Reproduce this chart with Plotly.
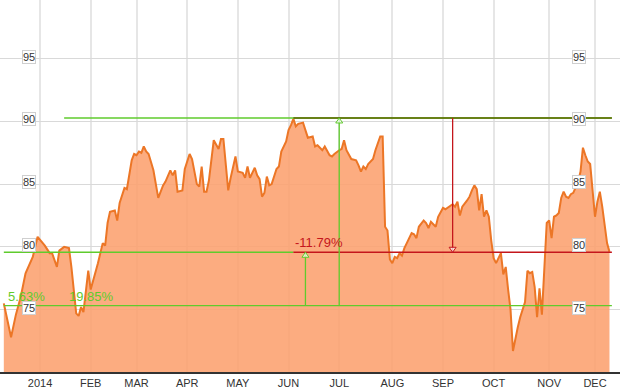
import plotly.graph_objects as go

# ---- data (trading days) ----
dates = [
    "2013-12-10", "2013-12-13", "2013-12-17", "2013-12-19", "2013-12-23", "2013-12-26", "2013-12-27", "2013-12-31",
    "2014-01-03", "2014-01-06", "2014-01-08", "2014-01-09", "2014-01-13", "2014-01-14", "2014-01-16", "2014-01-21",
    "2014-01-22", "2014-01-24", "2014-01-27", "2014-01-28", "2014-01-29", "2014-01-31",
    "2014-02-03", "2014-02-05", "2014-02-06", "2014-02-10", "2014-02-11", "2014-02-12", "2014-02-13", "2014-02-18",
    "2014-02-19", "2014-02-20", "2014-02-24", "2014-02-25", "2014-02-26", "2014-02-27", "2014-02-28",
    "2014-03-03", "2014-03-04", "2014-03-05", "2014-03-06", "2014-03-07", "2014-03-10", "2014-03-12", "2014-03-14",
    "2014-03-18", "2014-03-19", "2014-03-21", "2014-03-24", "2014-03-25", "2014-03-26", "2014-03-28", "2014-03-31",
    "2014-04-02", "2014-04-03", "2014-04-07", "2014-04-08", "2014-04-09", "2014-04-10", "2014-04-11", "2014-04-14",
    "2014-04-15", "2014-04-16", "2014-04-21", "2014-04-22", "2014-04-23", "2014-04-25", "2014-04-28", "2014-04-30",
    "2014-05-01", "2014-05-05", "2014-05-06", "2014-05-07", "2014-05-08", "2014-05-09", "2014-05-12", "2014-05-13",
    "2014-05-14", "2014-05-15", "2014-05-16", "2014-05-19", "2014-05-20", "2014-05-21", "2014-05-23", "2014-05-27",
    "2014-05-28", "2014-05-30",
    "2014-06-02", "2014-06-03", "2014-06-04", "2014-06-05", "2014-06-06", "2014-06-10", "2014-06-11", "2014-06-12",
    "2014-06-16", "2014-06-17", "2014-06-18", "2014-06-20", "2014-06-23", "2014-06-25", "2014-06-26", "2014-06-27",
    "2014-07-01", "2014-07-02", "2014-07-03", "2014-07-07", "2014-07-09", "2014-07-11", "2014-07-14", "2014-07-15",
    "2014-07-16", "2014-07-17", "2014-07-18", "2014-07-22", "2014-07-23", "2014-07-24", "2014-07-25", "2014-07-28",
    "2014-07-29", "2014-07-30", "2014-07-31",
    "2014-08-01", "2014-08-04", "2014-08-05", "2014-08-06", "2014-08-07", "2014-08-08", "2014-08-11", "2014-08-13",
    "2014-08-14", "2014-08-15", "2014-08-18", "2014-08-20", "2014-08-21", "2014-08-22", "2014-08-25", "2014-08-27",
    "2014-08-28", "2014-08-29",
    "2014-09-02", "2014-09-03", "2014-09-05", "2014-09-08", "2014-09-09", "2014-09-10", "2014-09-11", "2014-09-12",
    "2014-09-16", "2014-09-17", "2014-09-18", "2014-09-19", "2014-09-22", "2014-09-23", "2014-09-24", "2014-09-25",
    "2014-09-26", "2014-09-29", "2014-09-30",
    "2014-10-01", "2014-10-02", "2014-10-06", "2014-10-07", "2014-10-08", "2014-10-09", "2014-10-10", "2014-10-13",
    "2014-10-14", "2014-10-15", "2014-10-16", "2014-10-20", "2014-10-21", "2014-10-22", "2014-10-23", "2014-10-24",
    "2014-10-27", "2014-10-28", "2014-10-29", "2014-10-30", "2014-10-31",
    "2014-11-03", "2014-11-04", "2014-11-05", "2014-11-06", "2014-11-07", "2014-11-10", "2014-11-11", "2014-11-12",
    "2014-11-13", "2014-11-14", "2014-11-17", "2014-11-19", "2014-11-20", "2014-11-21", "2014-11-24", "2014-11-25",
    "2014-11-26", "2014-11-28",
    "2014-12-01", "2014-12-02", "2014-12-03", "2014-12-04", "2014-12-05", "2014-12-08", "2014-12-09",
]
values = [
    75.5, 72.8, 74.6, 76.0, 77.9, 78.7, 79.2, 80.8,
    80.3, 80.1, 79.5, 79.5, 78.4, 79.7, 80.0, 79.9,
    78.4, 74.7, 74.5, 75.2, 74.8, 78.1,
    76.6, 77.9, 78.7, 80.3, 80.1, 81.9, 82.8, 82.9,
    82.1, 83.5, 84.7, 84.6, 85.9, 86.9, 87.4,
    87.3, 87.6, 87.5, 88.0, 87.6, 87.4, 86.1, 83.9,
    84.9, 85.2, 86.1, 85.7, 86.1, 84.4, 84.5, 86.2,
    87.4, 87.0, 85.0, 84.8, 86.4, 84.4, 84.4, 85.3,
    86.9, 88.5, 87.8, 88.6, 88.6, 84.5, 85.5, 87.2,
    86.0, 85.9, 85.5, 86.4, 85.5, 85.9, 86.3, 85.7,
    85.4, 84.0, 84.3, 85.6, 84.9, 85.0, 86.2, 86.4,
    87.6, 88.4,
    89.3, 89.7, 90.2, 89.6, 89.8, 89.9, 89.2, 88.7,
    88.8, 88.0, 88.1, 87.7, 88.0, 87.3, 87.2, 87.4,
    87.7, 87.8, 88.5, 87.7, 87.0, 86.9, 86.5, 86.0,
    86.4, 86.2, 86.6, 87.0, 87.7, 88.2, 88.8, 88.8,
    81.6, 81.3, 79.0,
    78.7, 79.2, 79.1, 79.5, 79.3, 79.9, 80.3, 81.1,
    81.0, 80.7, 81.6, 82.1, 81.9, 81.5, 82.0, 81.6,
    82.4, 82.7,
    83.1, 83.0, 83.3, 83.4, 83.2, 83.6, 82.5, 83.2,
    83.7, 84.0, 84.5, 84.9, 84.6, 82.9, 84.2, 82.4,
    82.9, 82.4, 80.5,
    79.1, 78.7, 79.5, 77.8, 78.4, 76.6, 75.0, 71.7,
    72.8, 73.6, 74.4, 75.6, 78.1, 77.9, 78.0, 76.8,
    74.4, 76.7, 74.6, 78.1, 81.9,
    82.1, 80.7, 82.4, 82.5, 82.7, 83.9, 84.4, 84.0,
    83.9, 84.2, 84.3, 85.2, 86.0, 87.9, 87.3, 86.8,
    86.6, 84.5,
    82.4, 83.6, 84.4, 83.2, 81.6, 80.3, 79.6,
]

holidays = ["2013-12-25", "2014-01-01", "2014-01-20", "2014-02-17", "2014-04-18",
            "2014-05-26", "2014-07-04", "2014-09-01", "2014-11-27"]

month_ticks = ["2014-01-02", "2014-02-03", "2014-03-03", "2014-04-01", "2014-05-01", "2014-06-02",
               "2014-07-01", "2014-08-01", "2014-09-02", "2014-10-01", "2014-11-03", "2014-12-01"]
month_labels = ["2014", "FEB", "MAR", "APR", "MAY", "JUN", "JUL", "AUG", "SEP", "OCT", "NOV", "DEC"]

y_ticks = [75, 80, 85, 90, 95]

# measurement levels and labels
level_high = 90.27
level_mid = 79.57
level_low = 75.32
pct_labels = ["5.63%", "19.85%", "-11.79%"]

# anchor dates for the measurement drawing
d_start = "2013-12-10"
d_high_line = "2014-01-16"
d_peak = "2014-06-04"
d_end = "2014-12-10"
d_arrow1 = "2014-06-11"
d_arrow2 = "2014-07-01"
d_arrow3 = "2014-09-08"
d_lab1 = "2013-12-11"
d_lab2 = "2014-01-17"

GREEN = "#5fcb2c"
RED = "#c4161c"
OLIVE = "#5e6400"
FONT = "Arial, Liberation Sans, sans-serif"

fig = go.Figure()
fig.add_trace(go.Scatter(
    x=dates, y=values, mode="lines",
    line=dict(color="#ec7626", width=2),
    fill="tozeroy", fillcolor="rgba(252,160,110,0.88)",
    hoverinfo="skip", showlegend=False,
))

shapes = []
def hline(x0, x1, y, color, width=1.3):
    shapes.append(dict(type="line", xref="x", yref="y", x0=x0, x1=x1, y0=y, y1=y,
                       line=dict(color=color, width=width)))
def vline(x, y0, y1, color, width=1.3):
    shapes.append(dict(type="line", xref="x", yref="y", x0=x, x1=x, y0=y0, y1=y1,
                       line=dict(color=color, width=width)))
def head(x, y, color, up=True):
    p = "M-3.5,-5L0,0L3.5,-5Z" if up else "M-3.5,5L0,0L3.5,5Z"
    shapes.append(dict(type="path", xref="x", yref="y", xsizemode="pixel", ysizemode="pixel",
                       xanchor=x, yanchor=y, path=p, fillcolor="rgba(255,255,255,0.7)",
                       line=dict(color=color, width=1)))

hline(d_high_line, d_end, level_high, GREEN)
hline(d_peak, d_end, level_high, OLIVE, 1.6)
hline(d_start, d_peak, level_mid, GREEN)
hline(d_peak, d_end, level_mid, RED)
hline(d_start, d_end, level_low, GREEN)
vline(d_arrow1, level_low, level_mid, GREEN)
vline(d_arrow2, level_low, level_high, GREEN)
vline(d_arrow3, level_high, level_mid, RED)
head(d_arrow1, level_mid, GREEN, up=True)
head(d_arrow2, level_high, GREEN, up=True)
head(d_arrow3, level_mid, RED, up=False)

annotations = []
for v in y_ticks:
    for xp in (21.5 / 620, 585.5 / 620):
        annotations.append(dict(xref="paper", yref="y", x=xp, y=v, yshift=2, text=str(v),
                                showarrow=False, font=dict(family=FONT, size=11, color="#333"),
                                bgcolor="white", bordercolor="#cfcfcf", borderwidth=1, borderpad=0))
for txt, xd, yv, col in [(pct_labels[0], d_lab1, level_low, GREEN),
                         (pct_labels[1], d_lab2, level_low, GREEN),
                         (pct_labels[2], d_peak, level_mid, RED)]:
    annotations.append(dict(xref="x", yref="y", x=xd, y=yv, xanchor="left", yanchor="bottom",
                            yshift=0, text=txt, showarrow=False,
                            font=dict(family=FONT, size=13, color=col)))

fig.update_layout(
    width=625, height=388,
    margin=dict(l=0, r=5, t=0, b=16),
    paper_bgcolor="white", plot_bgcolor="white",
    shapes=shapes, annotations=annotations,
    xaxis=dict(
        type="date",
        range=["2013-12-06 10:00", "2014-12-15 08:40"],
        rangebreaks=[dict(bounds=["sat", "mon"]), dict(values=holidays)],
        tickmode="array", tickvals=month_ticks, ticktext=month_labels,
        showgrid=True, gridcolor="#e6e6e6", gridwidth=2,
        showline=True, linecolor="#333", linewidth=1.5,
        ticks="", tickfont=dict(family=FONT, size=11, color="#333"),
        zeroline=False, automargin=False,
    ),
    yaxis=dict(
        range=[70.03, 99.67],
        tickmode="array", tickvals=y_ticks, showticklabels=False,
        showgrid=True, gridcolor="#d9d9d9", gridwidth=1,
        zeroline=False, automargin=False,
    ),
)

fig.write_html("out.html", config={"displayModeBar": False},
               post_script="document.body.style.margin='0';document.body.style.overflow='hidden';")
